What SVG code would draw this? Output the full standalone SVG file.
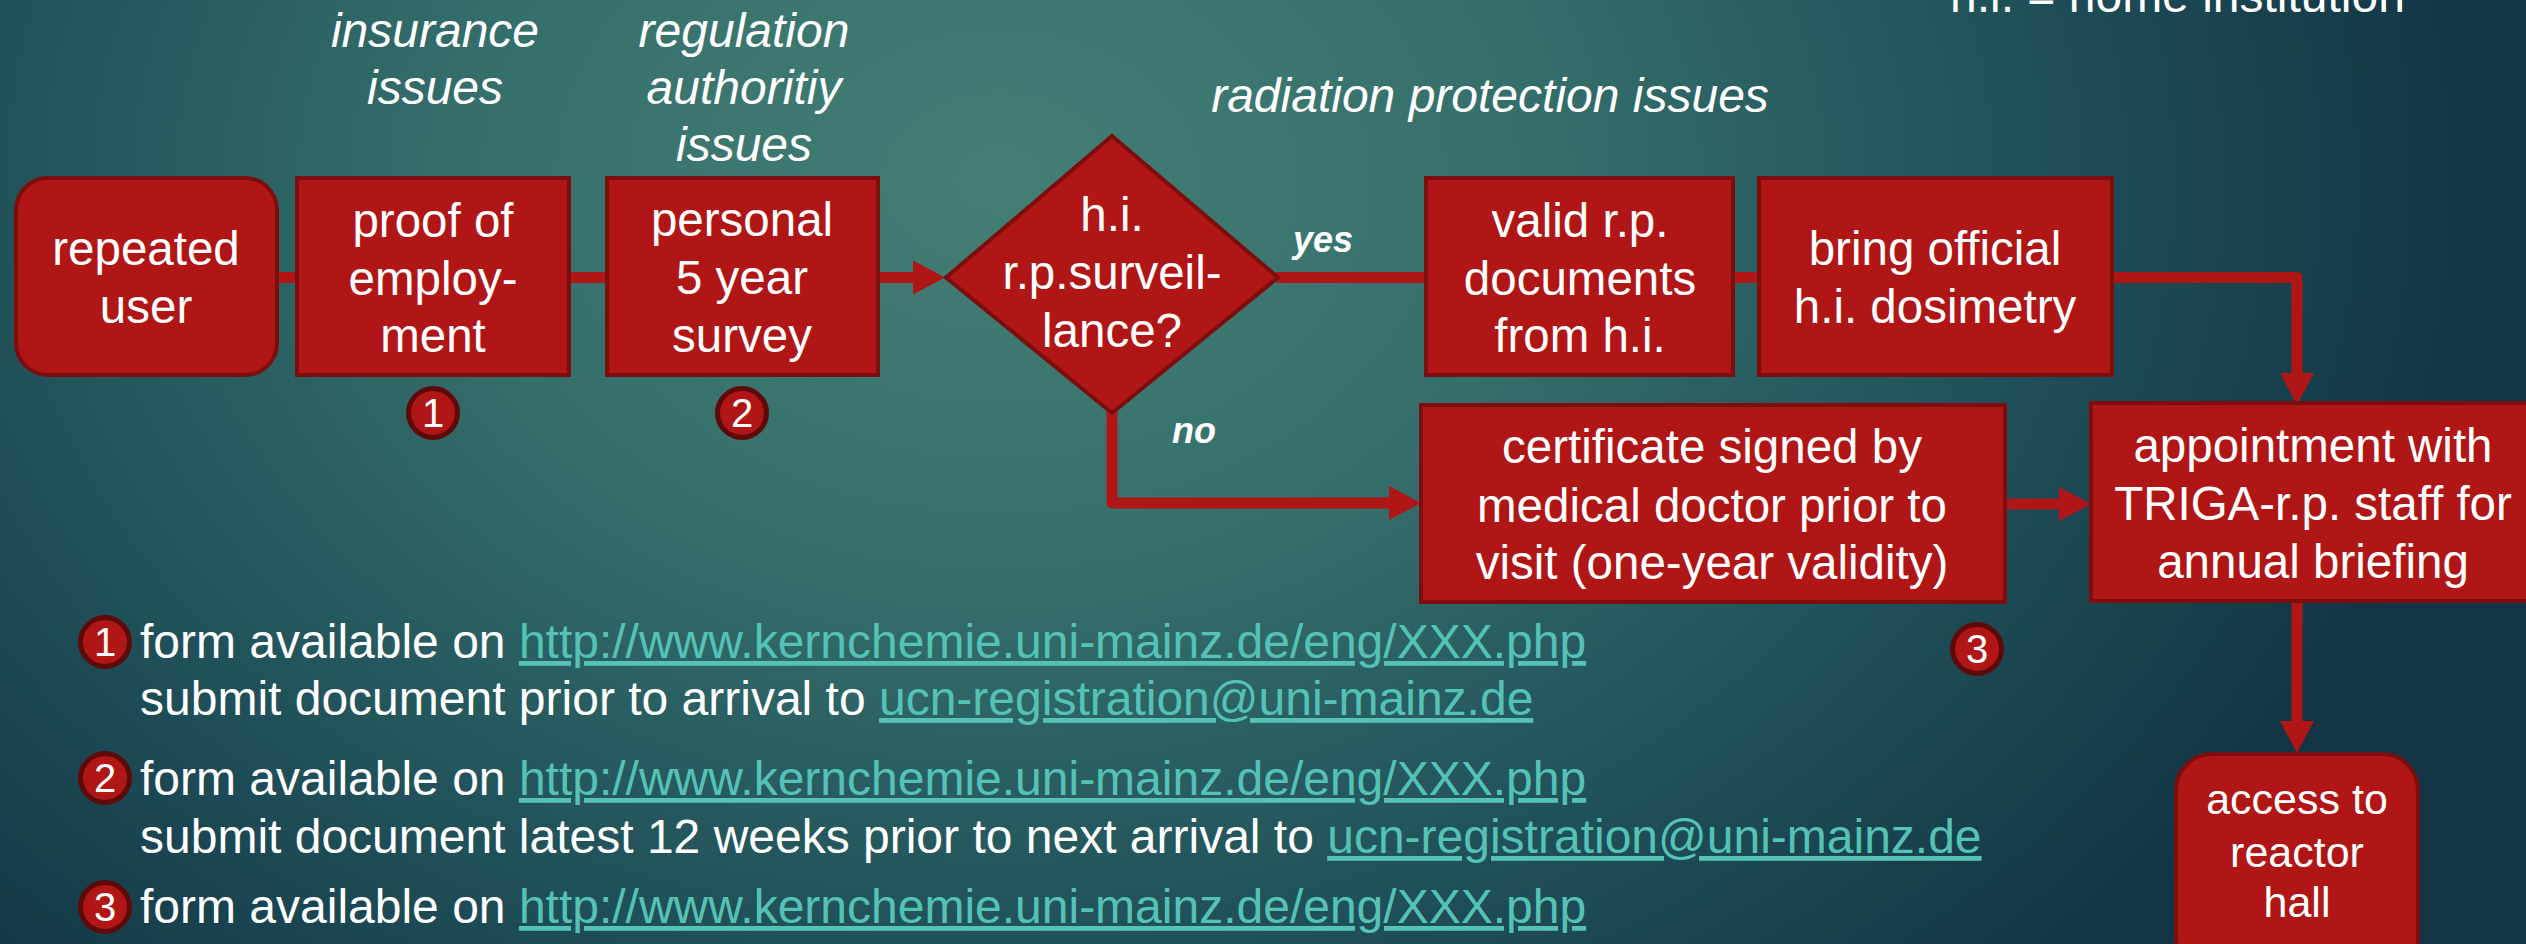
<svg xmlns="http://www.w3.org/2000/svg" width="2526" height="944" viewBox="0 0 2526 944">
<defs>
<radialGradient id="bg" gradientUnits="userSpaceOnUse" cx="1000" cy="180" r="1500" gradientTransform="translate(1000 180) scale(1 0.75) translate(-1000 -180)">
<stop offset="0" stop-color="#437f75"/>
<stop offset="0.35" stop-color="#356f6b"/>
<stop offset="0.7" stop-color="#1f4f58"/>
<stop offset="1" stop-color="#123444"/>
</radialGradient>
<marker id="ah" viewBox="0 0 32 34" refX="0" refY="17" markerWidth="32" markerHeight="34" markerUnits="userSpaceOnUse" orient="auto">
<path d="M0,0 L32,17 L0,34 z" fill="#b01616"/>
</marker>
<style>
.box{fill:#b01616;stroke:#7c0e0e;stroke-width:4}
.t{font-family:"Liberation Sans",Arial,sans-serif;fill:#ffffff;font-size:47.5px;text-anchor:middle}
.it{font-family:"Liberation Sans",Arial,sans-serif;fill:#ffffff;font-size:48px;font-style:italic;text-anchor:middle}
.yn{font-family:"Liberation Sans",Arial,sans-serif;fill:#ffffff;font-size:36px;font-style:italic;font-weight:bold}
.note{font-family:"Liberation Sans",Arial,sans-serif;fill:#ffffff;font-size:48px}
.lnk{fill:#55c2b6;text-decoration:underline}
.badge{fill:#b01616;stroke:#5e0a0a;stroke-width:5}
.bn{font-family:"Liberation Sans",Arial,sans-serif;fill:#ffffff;font-size:40px;text-anchor:middle}
.c{fill:none;stroke:#b01616;stroke-width:11;stroke-linejoin:round}
</style>
</defs>
<rect x="0" y="0" width="2526" height="944" fill="url(#bg)"/>

<g id="labels">
<text class="it" x="435" y="47">insurance</text>
<text class="it" x="435" y="104">issues</text>
<text class="it" x="744" y="47">regulation</text>
<text class="it" x="744" y="104">authoritiy</text>
<text class="it" x="744" y="161">issues</text>
<text class="it" x="1490" y="112">radiation protection issues</text>
<text class="note" x="1950" y="12">h.i. = home institution</text>
</g>

<g id="connectors">
<line class="c" x1="275" y1="277.5" x2="299" y2="277.5"/>
<line class="c" x1="567" y1="277.5" x2="609" y2="277.5"/>
<line class="c" x1="876" y1="277.5" x2="913" y2="277.5" marker-end="url(#ah)"/>
<line class="c" x1="1276" y1="277.5" x2="1428" y2="277.5"/>
<line class="c" x1="1731" y1="277.5" x2="1761" y2="277.5"/>
<path class="c" d="M2110,277.5 H2297 V373" marker-end="url(#ah)"/>
<path class="c" d="M1112,410 V503 H1389" marker-end="url(#ah)"/>
<line class="c" x1="2003" y1="504" x2="2059" y2="504" marker-end="url(#ah)"/>
<line class="c" x1="2297" y1="603" x2="2297" y2="721" marker-end="url(#ah)"/>
<text class="yn" x="1293" y="252">yes</text>
<text class="yn" x="1172" y="443">no</text>
</g>

<g id="n-repeated">
<rect class="box" x="16" y="178" width="261" height="197" rx="32"/>
<text class="t" x="146" y="265">repeated</text>
<text class="t" x="146" y="323">user</text>
</g>
<g id="n-proof">
<rect class="box" x="297" y="178" width="272" height="197"/>
<text class="t" x="433" y="237">proof of</text>
<text class="t" x="433" y="295">employ-</text>
<text class="t" x="433" y="352">ment</text>
</g>
<g id="n-personal">
<rect class="box" x="607" y="178" width="271" height="197"/>
<text class="t" x="742" y="236">personal</text>
<text class="t" x="742" y="294">5 year</text>
<text class="t" x="742" y="352">survey</text>
</g>
<g id="n-decision">
<polygon class="box" points="1112,136 1278,277.5 1112,413 946,277.5"/>
<text class="t" x="1112" y="231">h.i.</text>
<text class="t" x="1112" y="289">r.p.surveil-</text>
<text class="t" x="1112" y="347">lance?</text>
</g>
<g id="n-valid">
<rect class="box" x="1426" y="178" width="307" height="197"/>
<text class="t" x="1580" y="237">valid r.p.</text>
<text class="t" x="1580" y="295">documents</text>
<text class="t" x="1580" y="352">from h.i.</text>
</g>
<g id="n-bring">
<rect class="box" x="1759" y="178" width="353" height="197"/>
<text class="t" x="1935" y="265">bring official</text>
<text class="t" x="1935" y="323">h.i. dosimetry</text>
</g>
<g id="n-certificate">
<rect class="box" x="1421" y="405" width="584" height="197"/>
<text class="t" x="1712" y="463">certificate signed by</text>
<text class="t" x="1712" y="522">medical doctor prior to</text>
<text class="t" x="1712" y="579">visit (one-year validity)</text>
</g>
<g id="n-appointment">
<rect class="box" x="2091" y="403" width="450" height="198"/>
<text class="t" x="2313" y="462">appointment with</text>
<text class="t" x="2313" y="520">TRIGA-r.p. staff for</text>
<text class="t" x="2313" y="578">annual briefing</text>
</g>
<g id="n-access">
<rect class="box" x="2176" y="754" width="242" height="220" rx="36"/>
<text class="t" x="2297" y="814" style="font-size:43px">access to</text>
<text class="t" x="2297" y="867" style="font-size:43px">reactor</text>
<text class="t" x="2297" y="917" style="font-size:43px">hall</text>
</g>

<g id="badges">
<circle class="badge" cx="433" cy="413" r="24.5"/>
<text class="bn" x="433" y="427">1</text>
<circle class="badge" cx="742" cy="413" r="24.5"/>
<text class="bn" x="742" y="427">2</text>
<circle class="badge" cx="1977" cy="649" r="24.5"/>
<text class="bn" x="1977" y="663">3</text>
</g>

<g id="notes">
<circle class="badge" cx="105" cy="642" r="24.5"/>
<text class="bn" x="105" y="656">1</text>
<text class="note" x="140" y="658">form available on <tspan class="lnk">http://www.kernchemie.uni-mainz.de/eng/XXX.php</tspan></text>
<text class="note" x="140" y="715">submit document prior to arrival to <tspan class="lnk">ucn-registration@uni-mainz.de</tspan></text>
<circle class="badge" cx="105" cy="778" r="24.5"/>
<text class="bn" x="105" y="792">2</text>
<text class="note" x="140" y="795">form available on <tspan class="lnk">http://www.kernchemie.uni-mainz.de/eng/XXX.php</tspan></text>
<text class="note" x="140" y="853">submit document latest 12 weeks prior to next arrival to <tspan class="lnk">ucn-registration@uni-mainz.de</tspan></text>
<circle class="badge" cx="105" cy="907" r="24.5"/>
<text class="bn" x="105" y="921">3</text>
<text class="note" x="140" y="923">form available on <tspan class="lnk">http://www.kernchemie.uni-mainz.de/eng/XXX.php</tspan></text>
</g>
</svg>
